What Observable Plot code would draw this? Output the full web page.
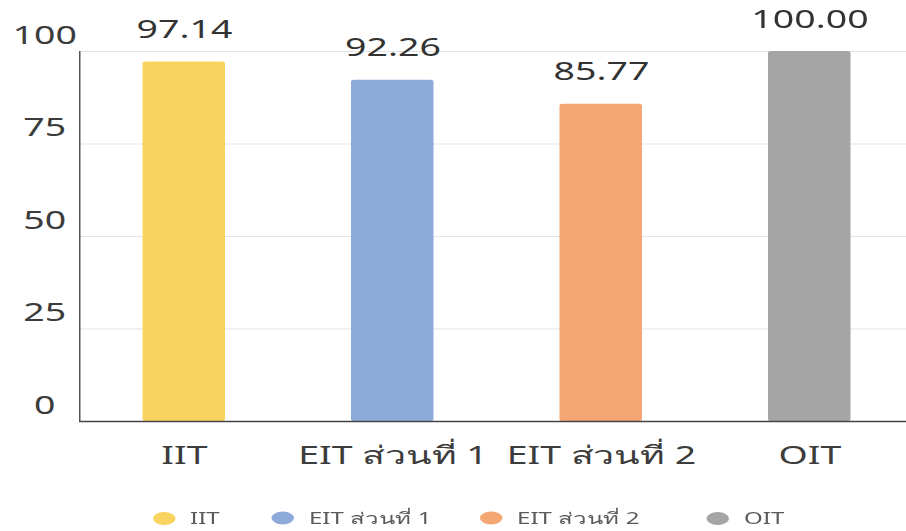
<!DOCTYPE html>
<html>
<head>
<meta charset="utf-8">
<script src="https://cdn.jsdelivr.net/npm/d3@7"></script>
<script src="https://cdn.jsdelivr.net/npm/@observablehq/plot@0.6"></script>
<style>
  html, body { margin: 0; padding: 0; background: #fff; }
  body { width: 906px; height: 531px; overflow: hidden; position: relative; font-family: "Noto Sans", "DejaVu Sans", sans-serif; }
  #stretch { position: absolute; left: 0; top: 0; transform-origin: 0 0; }
  #legend { position: absolute; left: 0; top: 496px; height: 44px; width: 100%; font-size: 16px; color: #5a5a5a; }
  .item { position: absolute; top: 22px; transform: translateY(-50%); display: flex; align-items: center; white-space: nowrap; }
  .dot { width: 14.7px; height: 13px; border-radius: 50%; margin-right: 10px; display: inline-block; }
</style>
</head>
<body>
<div id="stretch">
  <div id="chart"></div>
  <div id="legend"></div>
</div>
<script>
const categories = ["IIT", "EIT ส่วนที่ 1", "EIT ส่วนที่ 2", "OIT"];
const values = [97.14, 92.26, 85.77, 100.00];
const colors = ["#F9D35F", "#8EAADB", "#F4A772", "#A5A5A5"];
const yTicks = [0, 25, 50, 75, 100];

// The reference image is horizontally stretched; draw at a narrower width and scale it.
const S = 1.5;
const W = 906 / S;
const data = categories.map((c, i) => ({cat: c, value: values[i]}));
const font = "'Noto Sans', 'DejaVu Sans', sans-serif";

const stretch = document.getElementById("stretch");
stretch.style.width = W + "px";
stretch.style.transform = `scaleX(${S})`;

const left = 79 / S;
const plot = Plot.plot({
  width: W,
  height: 496,
  marginLeft: left,
  marginRight: 0,
  marginTop: 51,
  marginBottom: 75,
  style: {fontFamily: font, color: "#333", background: "#fff", overflow: "visible"},
  x: {domain: categories, range: [left, 913 / S], paddingInner: 0.607, paddingOuter: 0.3035, label: null},
  y: {domain: [0, 100], label: null},
  color: {domain: categories, range: colors},
  marks: [
    Plot.gridY(yTicks, {stroke: "#e3e3e3", strokeOpacity: 1}),
    Plot.barY(data, {x: "cat", y: "value", fill: "cat", rx: 2}),
    Plot.frame({anchor: "left", stroke: "#555"}),
    Plot.ruleY([0], {stroke: "#444", strokeWidth: 1.5}),
    Plot.axisY(yTicks, {tickSize: 0, tickPadding: 0, dx: 44 / S - left, dy: -16, textAnchor: "middle", fontSize: 25, fill: "#3c3c3c", label: null}),
    Plot.axisX({tickSize: 0, tickPadding: 25, fontSize: 25, fill: "#3c3c3c", label: null}),
    Plot.text(data, {x: "cat", y: "value", text: d => d.value.toFixed(2), dy: -32, fontSize: 25, fill: "#333", lineAnchor: "middle"})
  ]
});
document.getElementById("chart").append(plot);

const legendLefts = [153, 272, 480, 707];
const legend = document.getElementById("legend");
categories.forEach((c, i) => {
  const item = document.createElement("div");
  item.className = "item";
  item.style.left = (legendLefts[i] / S) + "px";
  const dot = document.createElement("span");
  dot.className = "dot";
  dot.style.background = colors[i];
  const label = document.createElement("span");
  label.textContent = c;
  item.append(dot, label);
  legend.append(item);
});
</script>
</body>
</html>
